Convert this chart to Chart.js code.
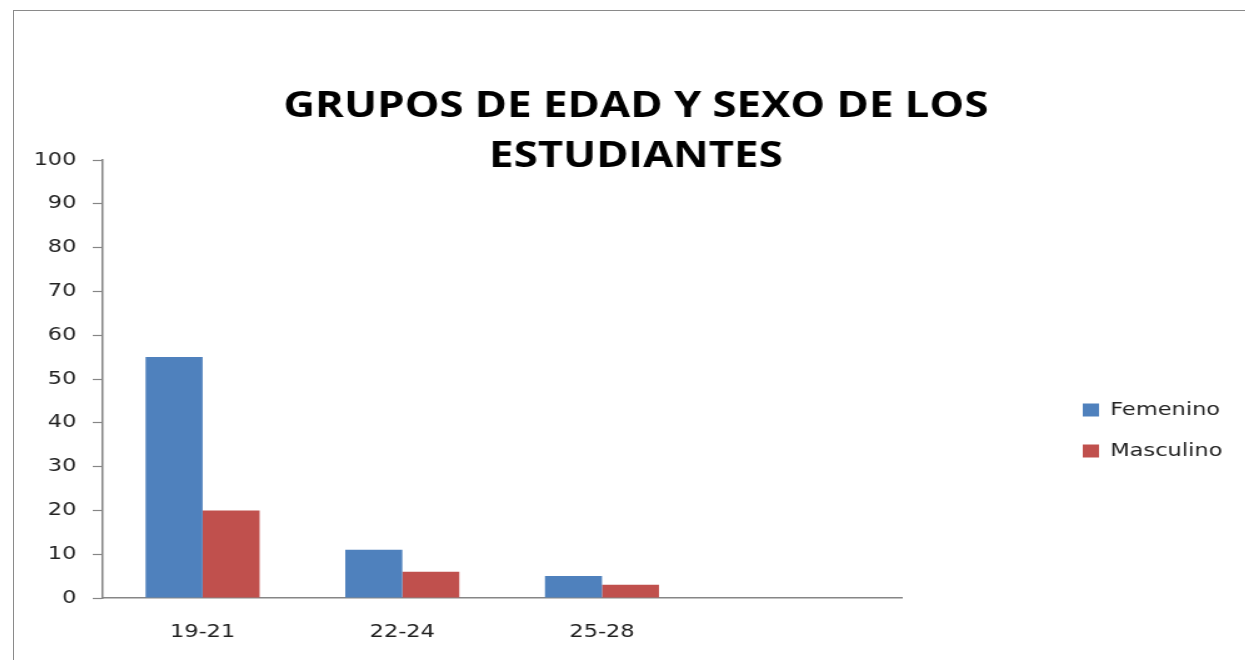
<!DOCTYPE html>
<html>
<head>
<meta charset="utf-8">
<script src="https://cdn.jsdelivr.net/npm/chart.js@4/dist/chart.umd.min.js"></script>
<style>
	html, body { margin: 0; padding: 0; background: #fff; overflow: hidden; }
	#frame {
		position: absolute; left: 13px; top: 10px; width: 1300px; height: 700px;
		border-left: 1.5px solid #8a8a8a; border-top: 1.5px solid #8a8a8a;
	}
	/* the source picture is stretched sideways, so the canvas is too */
	#chart { position: absolute; left: 0; top: 0; transform: scaleX(1.25); transform-origin: 0 0; }
</style>
</head>
<body>
<div id="frame"><canvas id="chart" width="995" height="839"></canvas></div>
<script>
const categories = ['19-21', '22-24', '25-28', ''];
const femenino = [55, 11, 5, null];
const masculino = [20, 6, 3, null];
const yMin = 0;
const yMax = 100;
const yStep = 10;
const titleLines = ['GRUPOS DE EDAD Y SEXO DE LOS', 'ESTUDIANTES'];

const AXIS_GREY = '#868686';
const TEXT = '#222';
const LEGEND_W = 163;

// the legend sits well to the right of the plot, force its box width
const legendWidth = {
	id: 'legendWidth',
	afterInit(chart) {
		const legend = chart.legend;
		const fit = legend.fit;
		legend.fit = function () {
			fit.call(this);
			this.width = LEGEND_W;
		};
	}
};

new Chart(document.getElementById('chart'), {
	type: 'bar',
	data: {
		labels: categories,
		datasets: [
			{ label: 'Femenino', data: femenino, backgroundColor: '#4f81bd' },
			{ label: 'Masculino', data: masculino, backgroundColor: '#c0504d' }
		]
	},
	options: {
		responsive: false,
		animation: false,
		devicePixelRatio: 1,
		datasets: { bar: { categoryPercentage: 0.571, barPercentage: 1 } },
		plugins: {
			title: {
				display: true,
				text: titleLines,
				color: '#000',
				font: { family: 'Open Sans', weight: 'bold', size: 35, lineHeight: 50 / 35 },
				padding: { top: 71, bottom: -22 }
			},
			legend: {
				position: 'right',
				labels: {
					color: TEXT,
					font: { family: 'DejaVu Sans', size: 18 },
					boxWidth: 13,
					boxHeight: 13,
					padding: 23
				}
			},
			tooltip: { enabled: false }
		},
		scales: {
			x: {
				grid: { display: false, drawTicks: false },
				border: { display: true, color: AXIS_GREY, width: 1.5 },
				ticks: { color: TEXT, font: { family: 'DejaVu Sans', size: 18 }, padding: 24, maxRotation: 0 },
				afterFit: s => { s.height = 252; }
			},
			y: {
				min: yMin,
				max: yMax,
				ticks: { stepSize: yStep, color: TEXT, font: { family: 'DejaVu Sans', size: 18 }, padding: 13 },
				grid: { drawOnChartArea: false, tickLength: 8, color: AXIS_GREY, tickWidth: 1.2 },
				border: { color: AXIS_GREY, width: 1.5 },
				afterFit: s => { s.width = 71; }
			},
			// empty spacer between the plot and the legend
			gap: {
				type: 'linear',
				position: 'right',
				grid: { display: false },
				border: { display: false },
				ticks: { display: false },
				afterFit: s => { s.width = 122; }
			}
		}
	},
	plugins: [legendWidth]
});
</script>
</body>
</html>
